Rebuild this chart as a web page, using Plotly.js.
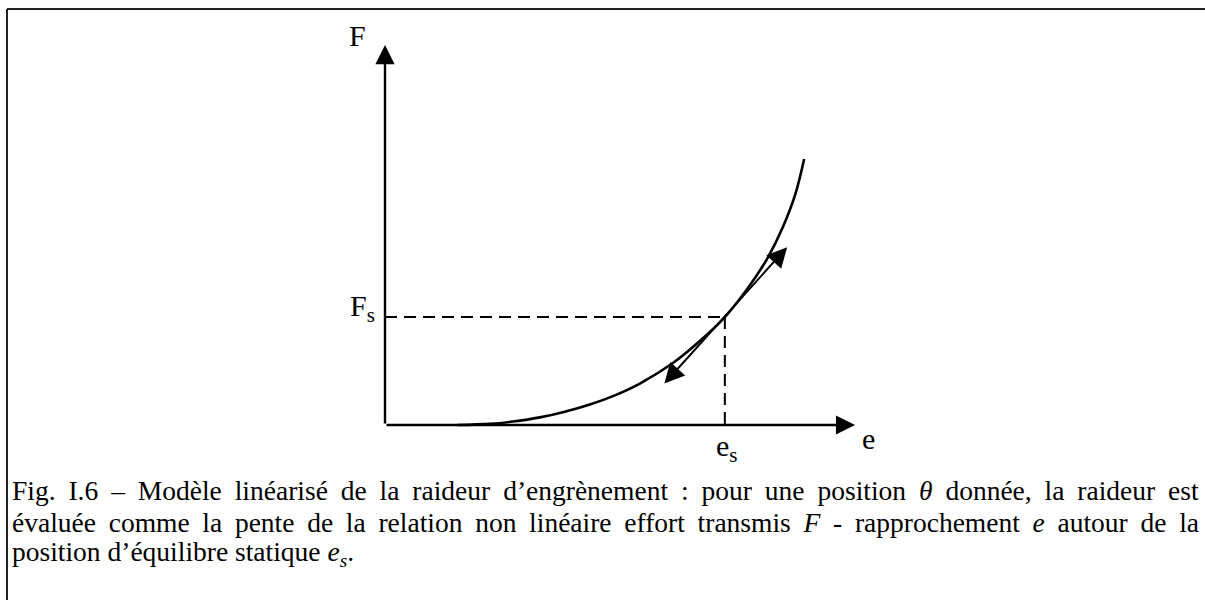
<!DOCTYPE html>
<html>
<head>
<meta charset="utf-8">
<script src="https://cdn.plot.ly/plotly-3.0.1.min.js"></script>
<style>
  html, body { margin: 0; padding: 0; background: #ffffff; }
  #chart { width: 1205px; height: 600px; }
</style>
</head>
<body>
<div id="chart"></div>
<script>
// ---- Data (arbitrary units) ----
const curveE = [1.53, 2.23, 2.71, 3.28, 3.81, 4.34, 4.87, 5.40, 6.10, 6.67, 7.20, 7.67, 8.09, 8.43, 8.69, 8.88];
const curveF = [0.00, 0.03, 0.09, 0.20, 0.35, 0.54, 0.78, 1.09, 1.63, 2.21, 2.84, 3.57, 4.36, 5.21, 6.06, 7.00];
const eStatic = 7.20;          // e_s
const fStatic = 2.84;          // F_s
const tangentE = [5.89, 8.52]; // tangent arrow end points
const tangentF = [1.05, 4.68];
const axisEMax = 9.96;
const axisFMax = 10.0;
const axisLabels = ["F", "e", "F<sub>s</sub>", "e<sub>s</sub>"];
const captionLines = [
  "Fig. I.6 – Modèle linéarisé de la raideur d’engrènement : pour une position <i>θ</i> donnée, la raideur est",
  "évaluée comme la pente de la relation non linéaire effort transmis <i>F</i> - rapprochement <i>e</i> autour de la",
  "position d’équilibre statique <i>e<sub>s</sub></i>."
];

// ---- Layout helpers ----
const W = 1205, H = 600;
const ox = 385, oy = 425;         // pixel origin
const pxPerE = 47.2, pxPerF = 38; // pixel scale
const xRange = [-ox / pxPerE, (W - ox) / pxPerE];
const yRange = [-(H - oy) / pxPerF, oy / pxPerF];
const serif = "'Liberation Serif', 'Times New Roman', serif";
const ink = "#000000";

const traces = [{
  type: "scatter",
  mode: "lines",
  x: curveE,
  y: curveF,
  line: { color: ink, width: 2.6, shape: "spline", smoothing: 1.0 },
  hoverinfo: "skip",
  showlegend: false
}];

function arrow(x, y, ax, ay, extra) {
  return Object.assign({
    x: x, y: y, ax: ax, ay: ay,
    xref: "x", yref: "y", axref: "x", ayref: "y",
    text: "", showarrow: true,
    arrowhead: 2, arrowsize: 1.6, arrowwidth: 2.4, arrowcolor: ink,
    standoff: 0, startstandoff: 0
  }, extra || {});
}

const annotations = [
  // axes
  arrow(0, axisFMax, 0, 0),
  arrow(axisEMax, 0, 0, 0),
  // tangent (double headed)
  arrow(tangentE[1], tangentF[1], tangentE[0], tangentF[0],
        { arrowside: "end+start", arrowwidth: 2, arrowsize: 2.0, startarrowhead: 2, startarrowsize: 2.0 }),
  // axis labels
  { x: -0.59, y: 10.25, xref: "x", yref: "y", text: axisLabels[0], showarrow: false,
    xanchor: "center", yanchor: "middle", font: { family: serif, size: 30, color: ink } },
  { x: 10.25, y: -0.36, xref: "x", yref: "y", text: axisLabels[1], showarrow: false,
    xanchor: "center", yanchor: "middle", font: { family: serif, size: 30, color: ink } },
  { x: -0.17, y: fStatic + 0.25, xref: "x", yref: "y", text: axisLabels[2], showarrow: false,
    xanchor: "right", yanchor: "middle", font: { family: serif, size: 30, color: ink } },
  { x: eStatic + 0.05, y: -0.6, xref: "x", yref: "y", text: axisLabels[3], showarrow: false,
    xanchor: "center", yanchor: "middle", font: { family: serif, size: 30, color: ink } }
];

const captionY = [490, 522, 553];
captionLines.forEach((t, i) => {
  annotations.push({
    x: 10 / W, y: 1 - captionY[i] / H, xref: "paper", yref: "paper",
    text: t, showarrow: false, xanchor: "left", yanchor: "middle", align: "left",
    font: { family: serif, size: 27.5, color: ink }
  });
});

const shapes = [
  // figure frame (top and left)
  { type: "line", xref: "paper", yref: "paper", x0: 7 / W, x1: 1, y0: 1 - 9 / H, y1: 1 - 9 / H,
    line: { color: "#222", width: 2 } },
  { type: "line", xref: "paper", yref: "paper", x0: 7 / W, x1: 7 / W, y0: 1 - 9 / H, y1: 0,
    line: { color: "#222", width: 2 } },
  // dashed guides
  { type: "line", xref: "x", yref: "y", x0: 0, x1: eStatic, y0: fStatic, y1: fStatic,
    line: { color: ink, width: 2, dash: "12px,7px" } },
  { type: "line", xref: "x", yref: "y", x0: eStatic, x1: eStatic, y0: fStatic, y1: 0,
    line: { color: ink, width: 2, dash: "12px,7px" } }
];

const layout = {
  width: W, height: H,
  margin: { l: 0, r: 0, t: 0, b: 0 },
  paper_bgcolor: "#ffffff", plot_bgcolor: "#ffffff",
  font: { family: serif, color: ink },
  showlegend: false,
  xaxis: { range: xRange, visible: false, fixedrange: true },
  yaxis: { range: yRange, visible: false, fixedrange: true },
  annotations: annotations,
  shapes: shapes
};

Plotly.newPlot("chart", traces, layout, { staticPlot: true, displayModeBar: false }).then(() => {
  // justify the first two caption lines like the typeset reference
  const firstCaption = annotations.length - captionLines.length;
  const target = 1197 - 10;
  [0, 1].forEach(k => {
    const g = document.querySelector('g.annotation[data-index="' + (firstCaption + k) + '"] text.annotation-text');
    if (!g) return;
    const w = g.getBBox().width;
    const spaces = (g.textContent.match(/ /g) || []).length;
    if (spaces > 0 && w < target) {
      g.style.wordSpacing = ((target - w) / spaces) + "px";
    }
  });
});
</script>
</body>
</html>
